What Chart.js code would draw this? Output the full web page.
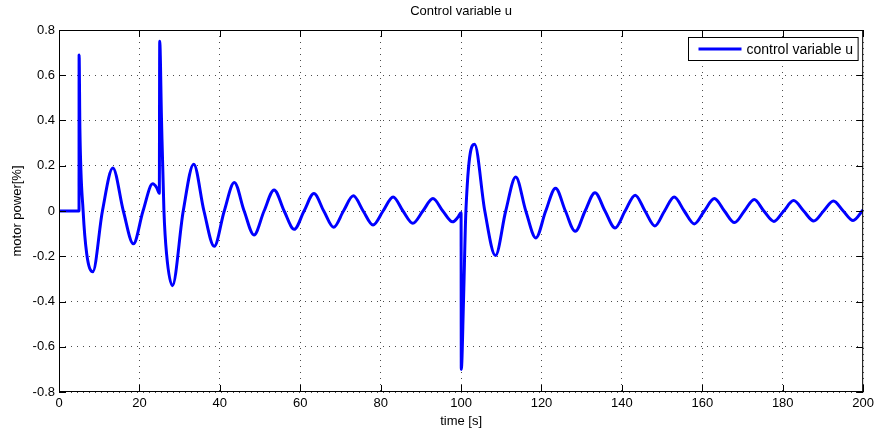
<!DOCTYPE html>
<html>
<head>
<meta charset="utf-8">
<script src="https://cdn.jsdelivr.net/npm/chart.js@4.4.1/dist/chart.umd.min.js"></script>
<style>
    html, body { margin: 0; padding: 0; background: #fff; }
    #wrap { width: 878px; height: 432px; }
</style>
</head>
<body>
<div id="wrap"><canvas id="myChart"></canvas></div>
<script>
// values
const time = [
    0, 4.98, 5.0, 5.2, 6.0, 6.9, 8.4, 10.8, 13.4, 16.0, 18.5, 20.9, 23.3, 24.3, 24.95,
    25.05, 25.5, 26.1, 26.75, 28.2, 30.9, 33.5, 36.05, 38.6, 41.1, 43.6, 46.05, 48.5,
    51.0, 53.5, 56.0, 58.5, 60.95, 63.4, 65.85, 68.3, 70.75, 73.2, 75.65, 78.1, 80.6,
    83.1, 85.55, 88.0, 90.5, 93.0, 95.45, 97.9, 99.2, 100.0,
    100.05, 100.6, 101.2, 103.35, 105.9, 108.55, 111.1, 113.6, 116.1, 118.6, 121.05,
    123.5, 125.95, 128.4, 130.85, 133.3, 135.8, 138.3, 140.8, 143.3, 145.75, 148.2,
    150.6, 153.0, 155.5, 158.0, 160.5, 163.0, 165.5, 168.0, 170.45, 172.9, 175.3,
    177.8, 180.25, 182.7, 185.2, 187.7, 190.15, 192.6, 195.05, 197.5, 200.0
];
const u = [
    0, 0, 0.69, 0.36, 0, -0.19, -0.268, 0, 0.19, 0, -0.145, 0, 0.12, 0.103, 0.078,
    0.75, 0.40, 0, -0.19, -0.33, 0, 0.207, 0, -0.156, 0, 0.126, 0, -0.106,
    0, 0.093, 0, -0.081, 0, 0.077, 0, -0.072, 0, 0.067, 0, -0.062, 0,
    0.062, 0, -0.054, 0, 0.055, 0, -0.048, -0.028, -0.008,
    -0.70, -0.40, 0, 0.295, 0, -0.197, 0, 0.15, 0, -0.119, 0,
    0.101, 0, -0.09, 0, 0.081, 0, -0.075, 0, 0.07, 0, -0.066,
    0, 0.062, 0, -0.057, 0, 0.055, 0, -0.051, 0, 0.051, 0,
    -0.046, 0, 0.046, 0, -0.044, 0, 0.044, 0, -0.042, 0.005
];

const xTicks = [0, 20, 40, 60, 80, 100, 120, 140, 160, 180, 200];
const yTicks = [-0.8, -0.6, -0.4, -0.2, 0, 0.2, 0.4, 0.6, 0.8];
const yTickLabels = ['-0.8', '-0.6', '-0.4', '-0.2', '0', '0.2', '0.4', '0.6', '0.8'];

const seriesName = 'control variable u';
const chartTitle = 'Control variable u';
const xTitle = 'time [s]';
const yTitle = 'motor power[%]';

const FONT = "'Liberation Sans', Arial, Helvetica, sans-serif";
Chart.defaults.font.family = FONT;
Chart.defaults.color = '#000';

// matlab-like box: frame, inward ticks, legend in the corner
const boxPlugin = {
    id: 'box',
    afterDatasetsDraw(chart) {
        const {ctx, chartArea: a, scales} = chart;
        const len = 7;
        ctx.save();
        ctx.strokeStyle = '#000';
        ctx.lineWidth = 1;
        ctx.strokeRect(a.left + 0.5, a.top + 0.5, a.right - a.left - 1, a.bottom - a.top - 1);

        ctx.beginPath();
        xTicks.forEach((v) => {
            const x = Math.round(scales.x.getPixelForValue(v)) + 0.5;
            ctx.moveTo(x, a.bottom);
            ctx.lineTo(x, a.bottom - len);
            ctx.moveTo(x, a.top);
            ctx.lineTo(x, a.top + len);
        });
        yTicks.forEach((v) => {
            const y = Math.round(scales.y.getPixelForValue(v)) + 0.5;
            ctx.moveTo(a.left, y);
            ctx.lineTo(a.left + len, y);
            ctx.moveTo(a.right, y);
            ctx.lineTo(a.right - len, y);
        });
        ctx.stroke();

        // legend
        const ds = chart.data.datasets[0];
        ctx.font = '14px ' + FONT;
        const tw = ctx.measureText(ds.label).width;
        const w = 10 + 43 + 5 + tw + 5;
        const h = 23;
        const bx = Math.round(a.right - 6 - w) + 0.5;
        const by = Math.round(a.top + 7) + 0.5;
        ctx.fillStyle = '#fff';
        ctx.fillRect(bx, by, w, h);
        ctx.strokeRect(bx, by, w, h);
        ctx.strokeStyle = ds.borderColor;
        ctx.lineWidth = ds.borderWidth;
        ctx.beginPath();
        ctx.moveTo(bx + 10, by + h / 2);
        ctx.lineTo(bx + 53, by + h / 2);
        ctx.stroke();
        ctx.fillStyle = '#000';
        ctx.textBaseline = 'middle';
        ctx.fillText(ds.label, bx + 58, by + h / 2 + 1);
        ctx.restore();
    }
};

const ctx = document.getElementById('myChart');

const chart = new Chart(ctx, {
    type: 'line',
    data: {
        datasets: [{
            label: seriesName,
            data: time.map((t, i) => ({x: t, y: u[i]})),
            borderColor: '#0000ff',
            borderWidth: 3,
            pointRadius: 0,
            fill: false,
            cubicInterpolationMode: 'monotone',
        }]
    },
    options: {
        responsive: true,
        maintainAspectRatio: false,
        animation: false,
        layout: { padding: { left: 0, right: 14, top: 0, bottom: 0 } },
        plugins: {
            legend: { display: false },
            tooltip: { enabled: false },
            title: {
                display: true,
                text: chartTitle,
                fullSize: false,
                color: '#000',
                font: { size: 13, weight: 'normal' },
                padding: { top: 4, bottom: 10.4 },
            },
        },
        scales: {
            x: {
                type: 'linear',
                min: 0,
                max: 200,
                afterBuildTicks: (s) => { s.ticks = xTicks.map((v) => ({value: v})); },
                afterFit: (s) => { s.height = 40; },
                ticks: { font: { size: 13 }, padding: 4, maxRotation: 0, autoSkip: false },
                grid: { color: 'rgba(0,0,0,0.7)', lineWidth: 1, drawTicks: false },
                border: { display: false, dash: [1, 5] },
                title: { display: true, text: xTitle, font: { size: 13 }, padding: { top: 0, bottom: 3 } },
            },
            y: {
                type: 'linear',
                min: -0.8,
                max: 0.8,
                afterBuildTicks: (s) => { s.ticks = yTicks.map((v) => ({value: v})); },
                afterFit: (s) => { s.width = 59; },
                ticks: {
                    font: { size: 13 },
                    padding: 4,
                    callback: (v) => yTickLabels[yTicks.findIndex((t) => Math.abs(t - v) < 1e-9)],
                },
                grid: { color: 'rgba(0,0,0,0.7)', lineWidth: 1, drawTicks: false },
                border: { display: false, dash: [1, 5] },
                title: { display: true, text: yTitle, font: { size: 13 }, padding: { top: 10, bottom: 0 } },
            },
        },
    },
    plugins: [boxPlugin],
});
</script>
</body>
</html>
